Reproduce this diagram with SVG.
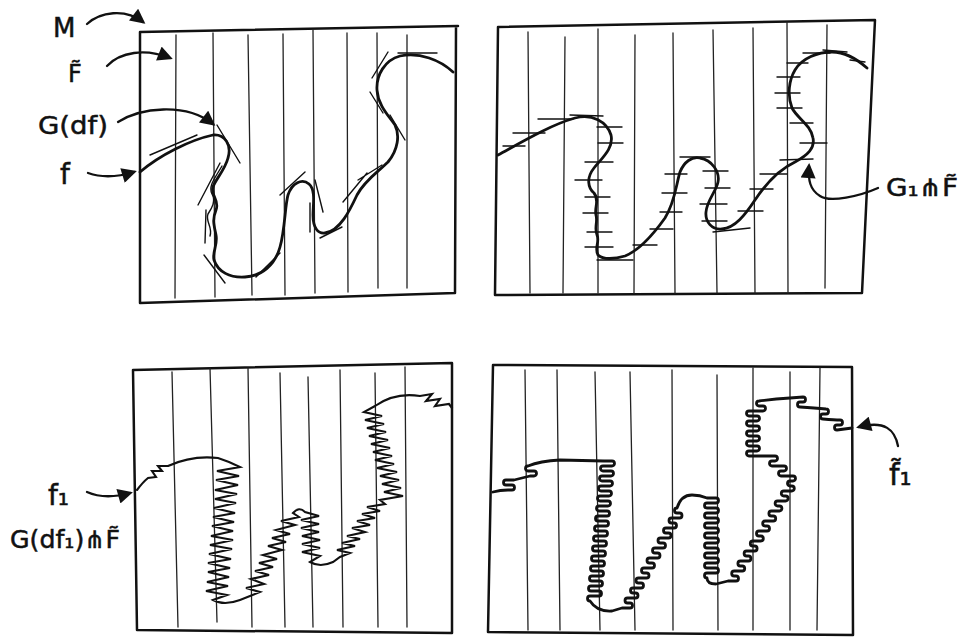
<svg xmlns="http://www.w3.org/2000/svg" width="961" height="637" viewBox="0 0 961 637">
<style>
.frame{fill:none;stroke:#111;stroke-width:2.5;stroke-linejoin:round;stroke-linecap:round}
.grid{fill:none;stroke:#222;stroke-width:1.3;stroke-linecap:round}
.curve{fill:none;stroke:#111;stroke-width:2.8;stroke-linejoin:round;stroke-linecap:round}
.zig{fill:none;stroke:#111;stroke-width:2.1;stroke-linejoin:miter;stroke-linecap:round}
.thin{fill:none;stroke:#111;stroke-width:1.4;stroke-linecap:round}
.arrow{fill:none;stroke:#111;stroke-width:2.3;stroke-linecap:round}
.lbl{font-family:"DejaVu Sans","Liberation Sans",sans-serif;fill:#111;stroke:#111;stroke-width:0.5}
</style>
<defs>
<marker id="ah" viewBox="0 0 10 10" refX="8" refY="5" markerWidth="16" markerHeight="15" markerUnits="userSpaceOnUse" orient="auto">
<path d="M0,0 L10,5 L0,10 z" fill="#111"/>
</marker>
</defs>
<rect width="961" height="637" fill="#fff"/>

<g id="panel-top-left">
<path class="frame" d="M140,32 L458,26 M456,27 L455,293 L140,303 L140,32"/>
<path class="grid" d="M176,35 L175,298 M213,33 L215,297 M248,35 L252,295 M283,34 L285,295 M313,30 L315,293 M347,33 L348,292 M377,33 L378,288 M407,35 L407,288"/>
<path class="curve" d="M140,172 C160,155 190,140 213,135 C225,134 232,145 228,158 C225,170 215,180 213,187 C210,195 220,200 216,210 C212,220 214,225 216,235 C218,245 212,252 214,260 C218,272 230,278 245,277 C262,276 275,265 280,247 C285,230 285,205 288,195 C292,183 302,178 309,184 C316,190 313,205 313,215 C313,228 318,234 325,233 C340,231 350,210 357,195 C365,180 378,172 388,162 C398,150 400,135 395,125 C388,115 378,105 377,90 C376,75 385,60 400,56 C420,52 440,60 453,72"/>
<path class="thin" d="M222,166 C215,178 208,186 212,194 C216,201 212,208 208,214 C205,221 213,227 210,236"/>
<path class="thin" d="M150,155 L197,135 M217,125 L240,163 M198,205 L220,163 M206,210 L205,243 M204,255 L225,283 M256,277 L280,253 M280,195 L305,172 M315,180 L323,212 M310,203 L310,232 M320,238 L342,227 M343,202 L367,173 M358,180 L382,165 M370,92 L383,113 M390,115 L405,140 M372,78 L388,52 M398,53 L437,53"/>
</g>

<g id="panel-top-right">
<path class="frame" d="M498,27 L875,20 L862,293 L495,295 L498,27"/>
<path class="grid" d="M528,32 L530,293 M565,37 L563,293 M598,29 L598,293 M635,35 L634,293 M673,33 L675,293 M713,30 L717,293 M753,28 L755,293 M787,22 L788,293 M827,25 L825,288"/>
<path class="curve" d="M498,155 C520,143 550,125 575,118 C592,113 607,122 611,135 C614,148 602,158 594,168 C586,178 588,188 594,193 C600,200 594,208 596,215 C598,222 594,228 597,235 C600,242 594,248 598,255 C603,260 615,259 625,256 C640,250 655,232 665,218 C675,202 676,185 680,172 C684,162 692,156 700,158 C712,160 720,172 718,182 C716,192 707,200 706,212 C705,222 712,230 722,229 C735,228 745,215 755,200 C765,185 778,170 795,162 C808,155 815,148 813,138 C811,125 797,118 792,108 C787,95 789,80 795,70 C802,58 818,52 832,52 C845,52 858,60 867,68"/>
<path class="thin" d="M503,146 L525,146 M513,133 L545,133 M538,119 L573,119 M570,115 L603,116 M597,127 L622,127 M598,143 L623,143 M585,162 L613,162 M575,180 L602,180 M585,197 L610,197 M583,213 L608,213 M587,232 L612,232 M585,247 L613,247 M597,260 L633,260 M633,245 L657,245 M650,229 L673,229 M660,212 L682,212 M662,193 L687,193 M665,174 L687,174 M680,157 L710,157 M703,171 L728,171 M705,188 L730,188 M700,204 L727,204 M702,221 L727,221 M713,232 L750,228 M738,211 L763,211 M750,189 L773,189 M760,174 L787,174 M780,160 L813,159 M800,143 L827,143 M790,123 L813,123 M777,108 L802,108 M775,93 L800,93 M777,77 L800,77 M787,63 L808,63 M803,53 L830,53 M823,50 L847,52 M850,60 L865,62"/>
</g>

<g id="panel-bottom-left">
<path class="frame" d="M133,370 L452,363 L452,633 L137,630 L133,370"/>
<path class="grid" d="M172,372 L178,627 M210,368 L217,622 M248,368 L252,627 M280,373 L285,627 M308,377 L313,627 M340,370 L343,627 M375,373 L378,627 M405,367 L407,627"/>
<path class="zig" d="M137,490 Q143,482 148,478 L156,477 L152,471 L162,471 L158,466 L168,466 Q192,455 218,458 L229,462 L240,467 L217,471 L239,476 L216,480 L238,485 L215,490 L237,494 L215,499 L236,503 L214,508 L235,513 L213,517 L234,522 L212,526 L233,531 L211,536 L233,540 L210,545 L232,549 L209,554 L231,559 L208,563 L230,568 L208,572 L229,577 L207,582 L228,586 L206,591 L227,595 L213,600 Q224,606 240,600 L250,596 L260,592 L246,588 L264,584 L251,579 L269,575 L255,571 L273,567 L259,563 L277,559 L263,555 L282,550 L268,546 L286,542 L272,538 L290,534 L276,530 L295,525 L281,521 L299,517 L293,513 Q299,506 305,512 L319,516 L301,520 L319,524 L301,528 L319,532 L302,536 L320,540 L302,544 L320,548 L302,552 L320,556 L310,562 Q320,568 333,562 L340,557 L350,553 L337,550 L355,546 L342,543 L360,539 L347,536 L365,532 L352,528 L370,525 L357,521 L375,518 L362,514 L380,511 L367,507 L385,504 L380,500 L403,496 L384,492 L401,488 L382,484 L399,480 L380,476 L397,472 L377,468 L394,464 L375,460 L392,456 L373,452 L390,448 L371,444 L388,440 L369,436 L386,432 L367,428 L384,424 L365,420 L382,416 L364,412 L375,406 Q395,392 420,396 L432,394 L426,401 L440,399 L435,406 L449,404 L452,408"/>
</g>

<g id="panel-bottom-right">
<path class="frame" d="M493,365 L852,367 L853,635 L488,632 L493,365"/>
<path class="grid" d="M525,370 L528,630 M557,370 L560,630 M595,372 L600,630 M630,372 L635,630 M672,370 L673,630 M717,375 L718,630 M753,368 L753,630 M790,372 L790,630 M820,368 L817,630"/>
<path class="curve" stroke-width="2.5" d="M493,492 Q500,490 508,490 h4 a2.5,2.5 0 0 0 0,-5 h-6 a2.5,2.5 0 0 1 0,-5 h8 Q522,478 530,476 h4 a2.5,2.5 0 0 0 0,-5 h-6 a2.5,2.5 0 0 1 0,-5 Q540,461 560,460 L604,461
h8 a2.5,2.5 0 0 1 0,5 h-9 a2.5,2.5 0 0 0 0,5 h8 a2.5,2.5 0 0 1 0,5 h-9 a2.5,2.5 0 0 0 0,5 h8 a2.5,2.5 0 0 1 0,5 h-9 a2.5,2.5 0 0 0 0,5 h8 a2.5,2.5 0 0 1 0,5 h-9 a2.5,2.5 0 0 0 0,5 h8 a2.5,2.5 0 0 1 0,5 h-9 a2.5,2.5 0 0 0 0,5 h8 a2.5,2.5 0 0 1 0,5 h-9 a2.5,2.5 0 0 0 0,5 h8 a2.5,2.5 0 0 1 0,5 h-9 a2.5,2.5 0 0 0 0,5 h8 a2.5,2.5 0 0 1 0,5 h-9 a2.5,2.5 0 0 0 0,5 h8 a2.5,2.5 0 0 1 0,5 h-9 a2.5,2.5 0 0 0 0,5 h8 a2.5,2.5 0 0 1 0,5 h-9 a2.5,2.5 0 0 0 0,5 h8 a2.5,2.5 0 0 1 0,5 h-9 a2.5,2.5 0 0 0 0,5 h8 a2.5,2.5 0 0 1 0,5 h-9 a2.5,2.5 0 0 0 0,5 h8 a2.5,2.5 0 0 1 0,5 h-9 a2.5,2.5 0 0 0 0,5 h8 a2.5,2.5 0 0 1 0,5 h-9 a2.5,2.5 0 0 0 0,5
Q597,612 612,611 L622,608
h8 a2.5,2.5 0 0 0 0,-5 h-2.5 a2.5,2.5 0 0 1 0,-5 h8 a2.5,2.5 0 0 0 0,-5 h-2.5 a2.5,2.5 0 0 1 0,-5 h8 a2.5,2.5 0 0 0 0,-5 h-2.5 a2.5,2.5 0 0 1 0,-5 h8 a2.5,2.5 0 0 0 0,-5 h-2.5 a2.5,2.5 0 0 1 0,-5 h8 a2.5,2.5 0 0 0 0,-5 h-2.5 a2.5,2.5 0 0 1 0,-5 h8 a2.5,2.5 0 0 0 0,-5 h-2.5 a2.5,2.5 0 0 1 0,-5 h8 a2.5,2.5 0 0 0 0,-5 h-2.5 a2.5,2.5 0 0 1 0,-5 h8 a2.5,2.5 0 0 0 0,-5 h-2.5 a2.5,2.5 0 0 1 0,-5 h8 a2.5,2.5 0 0 0 0,-5 h-2.5 a2.5,2.5 0 0 1 0,-5 h8 a2.5,2.5 0 0 0 0,-5 h-2.5 a2.5,2.5 0 0 1 0,-5
Q681,495 692,495 Q700,495 707,498
h9 a2.5,2.5 0 0 1 0,5 h-9 a2.5,2.5 0 0 0 0,5 h9 a2.5,2.5 0 0 1 0,5 h-9 a2.5,2.5 0 0 0 0,5 h9 a2.5,2.5 0 0 1 0,5 h-9 a2.5,2.5 0 0 0 0,5 h9 a2.5,2.5 0 0 1 0,5 h-9 a2.5,2.5 0 0 0 0,5 h9 a2.5,2.5 0 0 1 0,5 h-9 a2.5,2.5 0 0 0 0,5 h9 a2.5,2.5 0 0 1 0,5 h-9 a2.5,2.5 0 0 0 0,5 h9 a2.5,2.5 0 0 1 0,5 h-9 a2.5,2.5 0 0 0 0,5 h9 a2.5,2.5 0 0 1 0,5 h-9 a2.5,2.5 0 0 0 0,5
Q707,584 716,584 L728,581
h8 a2.5,2.5 0 0 0 0,-5 h-1.8 a2.5,2.5 0 0 1 0,-5 h8 a2.5,2.5 0 0 0 0,-5 h-1.8 a2.5,2.5 0 0 1 0,-5 h8 a2.5,2.5 0 0 0 0,-5 h-1.8 a2.5,2.5 0 0 1 0,-5 h8 a2.5,2.5 0 0 0 0,-5 h-1.8 a2.5,2.5 0 0 1 0,-5 h8 a2.5,2.5 0 0 0 0,-5 h-1.8 a2.5,2.5 0 0 1 0,-5 h8 a2.5,2.5 0 0 0 0,-5 h-1.8 a2.5,2.5 0 0 1 0,-5 h8 a2.5,2.5 0 0 0 0,-5 h-1.8 a2.5,2.5 0 0 1 0,-5 h8 a2.5,2.5 0 0 0 0,-5 h-1.8 a2.5,2.5 0 0 1 0,-5 h8 a2.5,2.5 0 0 0 0,-5 h-1.8 a2.5,2.5 0 0 1 0,-5 h8 a2.5,2.5 0 0 0 0,-5 h-1.8 a2.5,2.5 0 0 1 0,-5
h3 a2.5,2.5 0 0 0 0,-5 h-12 a2.5,2.5 0 0 1 0,-5 h3 a2.5,2.5 0 0 0 0,-5 h-12 a2.5,2.5 0 0 1 0,-5 h3 a2.5,2.5 0 0 0 0,-5 h-26 a2.5,2.5 0 0 1 0,-5
h8 a2.5,2.5 0 0 0 0,-5 h-8 a2.5,2.5 0 0 1 0,-5 h8 a2.5,2.5 0 0 0 0,-5 h-8 a2.5,2.5 0 0 1 0,-5 h8 a2.5,2.5 0 0 0 0,-5 h-8 a2.5,2.5 0 0 1 0,-5 h8 a2.5,2.5 0 0 0 0,-5 h-8 a2.5,2.5 0 0 1 0,-5
h14 a2.5,2.5 0 0 0 0,-5 h-4 a2.5,2.5 0 0 1 0,-5 Q775,399 790,398 L803,397
a2.5,2.5 0 0 1 0,5 h-3 a2.5,2.5 0 0 0 0,5 Q815,408 826,409 a2.5,2.5 0 0 1 0,5 h-3 a2.5,2.5 0 0 0 0,5 Q835,420 840,420 a2.5,2.5 0 0 1 0,5 h-3 a2.5,2.5 0 0 0 0,5 L852,428"/>
</g>

<g id="connectors">
<path class="arrow" marker-end="url(#ah)" d="M87,24 C100,12 125,8 143,22"/>
<path class="arrow" marker-end="url(#ah)" d="M107,66 C120,52 145,48 170,58"/>
<path class="arrow" marker-end="url(#ah)" d="M118,122 C140,108 185,102 213,124"/>
<path class="arrow" marker-end="url(#ah)" d="M88,173 Q108,180 134,172"/>
<path class="arrow" marker-end="url(#ah)" d="M878,188 C860,196 830,203 820,196 C810,190 808,180 809,166"/>
<path class="arrow" marker-end="url(#ah)" d="M87,492 Q105,500 130,493"/>
<path class="arrow" marker-end="url(#ah)" d="M898,446 C895,430 885,420 859,427"/>
</g>

<g id="label-M"><text class="lbl" x="53" y="37" font-size="26">M</text></g>
<g id="label-F"><text class="lbl" x="68" y="82" font-size="24">F&#x303;</text></g>
<g id="label-Gdf"><text class="lbl" x="38" y="134" font-size="25" textLength="70" lengthAdjust="spacingAndGlyphs">G(df)</text></g>
<g id="label-f"><text class="lbl" x="60" y="184" font-size="28">f</text></g>
<g id="label-G1F"><text class="lbl" x="886" y="196" font-size="24" textLength="72" lengthAdjust="spacingAndGlyphs">G&#x2081;&#x22D4;F&#x303;</text></g>
<g id="label-f1"><text class="lbl" x="48" y="505" font-size="28">f&#x2081;</text></g>
<g id="label-Gdf1F"><text class="lbl" x="10" y="548" font-size="24" textLength="110" lengthAdjust="spacingAndGlyphs">G(df&#x2081;)&#x22D4;F&#x303;</text></g>
<g id="label-f1t"><text class="lbl" x="889" y="485" font-size="30">f&#x303;&#x2081;</text></g>
</svg>
